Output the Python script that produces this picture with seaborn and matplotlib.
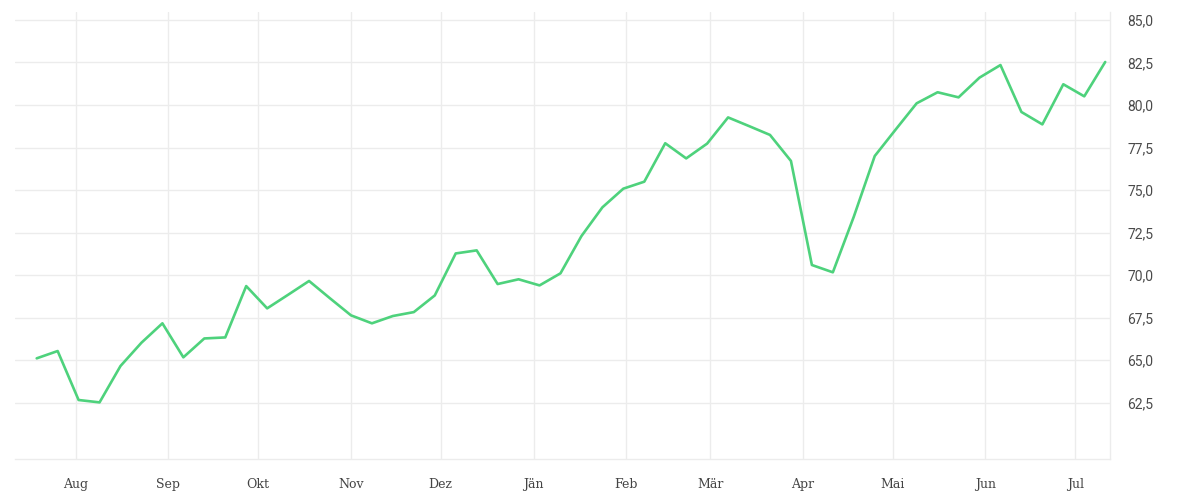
import pandas as pd
import matplotlib
matplotlib.use("Agg")
import matplotlib.pyplot as plt
import matplotlib.dates as mdates
from matplotlib.ticker import FuncFormatter
import seaborn as sns

# weekly series
START = "2018-07-19"
values = [65.10, 65.53, 62.65, 62.51, 64.65, 66.02, 67.16, 65.16, 66.27, 66.33,
          69.35, 68.04, 68.84, 69.65, 68.63, 67.63, 67.16, 67.59, 67.82, 68.80,
          71.27, 71.45, 69.47, 69.75, 69.39, 70.10, 72.29, 73.98, 75.08, 75.49,
          77.75, 76.86, 77.73, 79.27, 78.76, 78.24, 76.71, 70.59, 70.16, 73.43,
          77.00, 78.56, 80.10, 80.75, 80.45, 81.61, 82.35, 79.59, 78.86, 81.22,
          80.51, 82.53]
month_starts = ["2018-08-01", "2018-09-01", "2018-10-01", "2018-11-01", "2018-12-01",
                "2019-01-01", "2019-02-01", "2019-03-01", "2019-04-01", "2019-05-01",
                "2019-06-01", "2019-07-01"]
month_labels = ["Aug", "Sep", "Okt", "Nov", "Dez", "Jän", "Feb", "Mär", "Apr",
                "Mai", "Jun", "Jul"]
y_ticks = [62.5, 65.0, 67.5, 70.0, 72.5, 75.0, 77.5, 80.0, 82.5, 85.0]

dates = pd.date_range(START, periods=len(values), freq="7D")
df = pd.DataFrame({"Datum": dates, "Wert": values})

sns.set_style("white")
GRID = "#ececec"
TXT = "#444444"

fig = plt.figure(figsize=(12, 5), dpi=100)
ax = fig.add_axes([0.0125, 0.082, 0.9125, 0.894])
sns.lineplot(data=df, x="Datum", y="Wert", color="#4ed27c", linewidth=1.9, ax=ax)

x0 = mdates.date2num(dates[0]) - 7.25
x1 = mdates.date2num(dates[-1]) + 1.6
ax.set_xlim(x0, x1)
ax.set_ylim(59.18, 85.47)

ax.set_xticks(pd.to_datetime(month_starts))
ax.set_xticklabels(month_labels, family="DejaVu Serif", fontsize=9, color=TXT)
ax.set_yticks(y_ticks)
ax.yaxis.set_major_formatter(FuncFormatter(lambda v, p: f"{v:.1f}".replace(".", ",")))
ax.yaxis.tick_right()
for lbl in ax.get_yticklabels():
    lbl.set_family("Roboto")
ax.tick_params(axis="y", length=0, pad=12.5, labelsize=10, labelcolor="#4a4a4a")
ax.tick_params(axis="x", length=10, color=GRID, width=1, pad=3.5)

ax.grid(True, color=GRID, linewidth=1)
ax.set_axisbelow(True)
for s in ["top", "left"]:
    ax.spines[s].set_visible(False)
for s in ["bottom", "right"]:
    ax.spines[s].set_color(GRID)
    ax.spines[s].set_linewidth(1)
ax.set_xlabel("")
ax.set_ylabel("")

fig.savefig("out.png", dpi=100)
